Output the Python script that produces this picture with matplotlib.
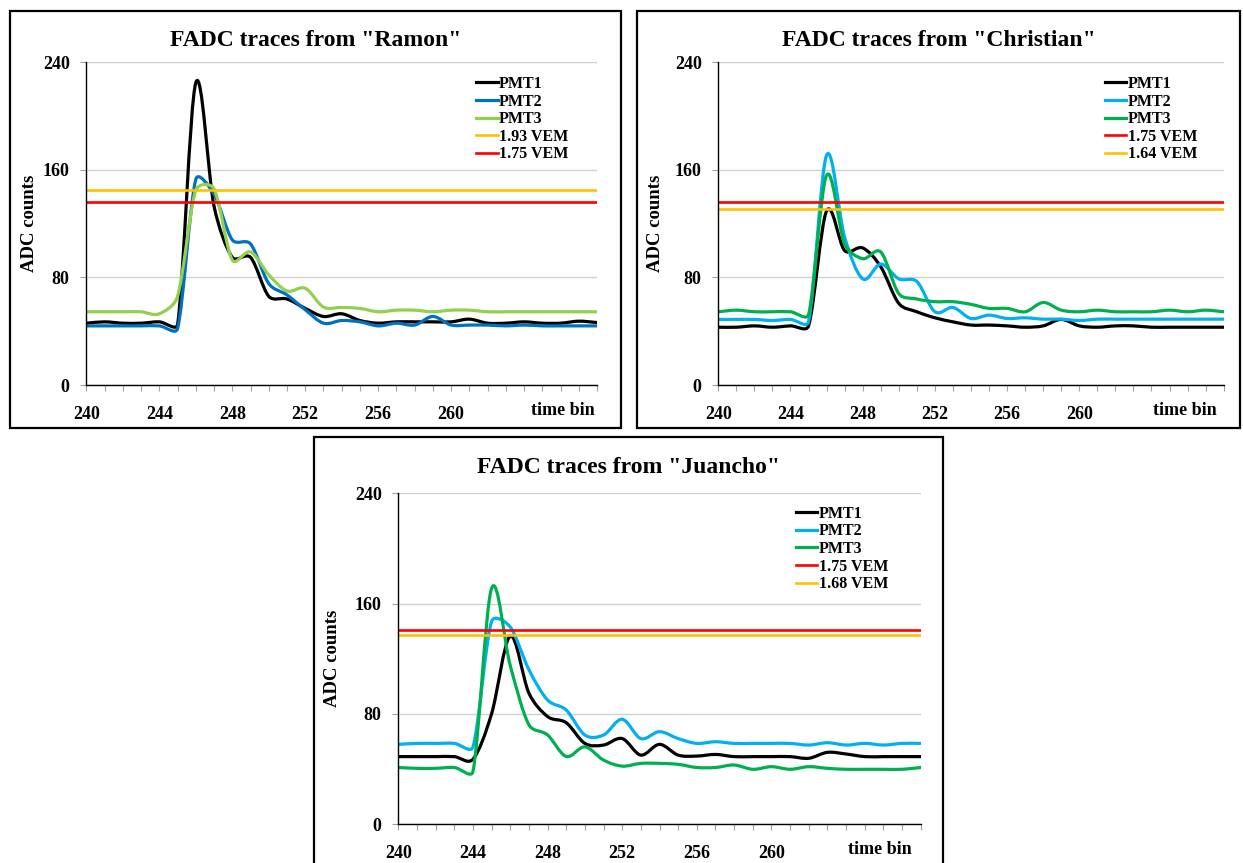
import matplotlib
matplotlib.use('Agg')
import matplotlib.pyplot as plt
from matplotlib.path import Path
from matplotlib.patches import PathPatch, Rectangle
from matplotlib.lines import Line2D
import numpy as np

# ---------------- data ----------------
bins = list(range(240, 269))
xtick_labels = [240, 244, 248, 252, 256, 260]
yticks = [0, 80, 160, 240]

ramon_pmt1 = [46, 47, 46, 46, 47, 45, 225, 133, 95, 95, 66, 64, 57, 51, 53, 48, 46, 47, 47, 47,
              47, 49, 46, 46, 47, 46, 46, 47.5, 46.5]
ramon_pmt2 = [44, 44, 44, 44, 44, 42, 153, 142, 108, 105, 75.5, 67, 56, 46, 48, 47, 44, 46, 44.6, 51,
              44.6, 44.6, 44.6, 44, 44.6, 44, 44, 44, 44]
ramon_pmt3 = [54.5, 54.5, 54.5, 54.5, 53, 66, 145, 146, 93, 99, 82, 70, 72, 58, 57.7, 57, 54.5, 55.7, 55.7, 54.5,
              55.7, 55.7, 54.5, 54.5, 54.5, 54.5, 54.5, 54.5, 54.5]
ramon_thr = {"1.93 VEM": 145, "1.75 VEM": 136}

christian_pmt1 = [43, 43, 44, 43, 44, 44, 129.5, 100, 102, 88, 60.7, 54.5, 50, 47, 44.6, 44.6, 44, 43, 44, 48.8,
                  44, 43, 44, 44, 43, 43, 43, 43, 43]
christian_pmt2 = [48.8, 48.8, 48.8, 48, 48.8, 47, 171, 110, 79, 90, 79, 77, 54.5, 57.7, 49.5, 52, 49.5, 50, 49, 49,
                  48, 49, 49, 49, 49, 49, 49, 49, 49]
christian_pmt3 = [54.5, 55.7, 54.5, 54.5, 54.5, 52.5, 156, 105, 94, 99, 68, 64, 62, 62, 60, 57, 57, 54.5, 61.4, 55.7,
                  54.5, 55.7, 54.5, 54.5, 54.5, 55.7, 54.5, 55.7, 54.5]
christian_thr = {"1.75 VEM": 136, "1.64 VEM": 131}

juancho_pmt1 = [48.9, 48.9, 48.9, 48.9, 47, 80, 136.4, 95, 78, 73.5, 58.5, 57.3, 62, 50, 57.8, 50, 49.3, 50.5, 48.9, 48.9,
                48.9, 48.9, 47.7, 52, 50.8, 48.9, 48.9, 48.9, 48.9]
juancho_pmt2 = [57.8, 58.5, 58.5, 58.5, 56, 147, 143, 112, 90, 82.7, 64.6, 64.6, 76, 62, 67, 62, 58.5, 59.7, 58.5, 58.5,
                58.5, 58.5, 57.3, 59, 57.3, 58.5, 57.3, 58.5, 58.5]
juancho_pmt3 = [41, 40.4, 40.4, 41, 38, 171, 115, 72, 64.6, 49, 56, 46.4, 42, 44, 44, 43.3, 41, 41, 42.8, 39.7,
                41.6, 39.7, 41.6, 40.4, 39.7, 39.7, 39.7, 39.7, 41]
juancho_thr = {"1.75 VEM": 141, "1.68 VEM": 137}

# ---------------- style ----------------
W, H = 1243, 863
FONT = 'Liberation Serif'
plt.rcParams['font.family'] = [FONT, 'DejaVu Serif']
plt.rcParams['font.weight'] = 'bold'

BLACK = '#000000'
RED = '#FF0000'
ORANGE = '#FFC000'

fig = plt.figure(figsize=(W / 100, H / 100), dpi=100)


def smooth_path(x, y, sx, sy, k=0.4):
    """Excel-like smoothed line: Catmull-Rom Bezier segments through the data
    points; each control handle is limited to k times its segment's on-screen length."""
    x = np.asarray(x, float)
    y = np.asarray(y, float)
    n = len(x)
    cin = [None] * n
    cout = [None] * n
    for i in range(n):
        if i == 0 or i == n - 1:
            cin[i] = (x[i], y[i])
            cout[i] = (x[i], y[i])
            continue
        tx = (x[i + 1] - x[i - 1]) / 6.0
        ty = (y[i + 1] - y[i - 1]) / 6.0
        tl = np.hypot(tx * sx, ty * sy)
        d01 = np.hypot((x[i] - x[i - 1]) * sx, (y[i] - y[i - 1]) * sy)
        d12 = np.hypot((x[i + 1] - x[i]) * sx, (y[i + 1] - y[i]) * sy)
        fa = min(1.0, k * d01 / tl) if tl > 0 else 1.0
        fb = min(1.0, k * d12 / tl) if tl > 0 else 1.0
        cin[i] = (x[i] - fa * tx, y[i] - fa * ty)
        cout[i] = (x[i] + fb * tx, y[i] + fb * ty)
    cout[0] = (x[0] + (x[1] - x[0]) / 3.0, y[0] + (y[1] - y[0]) / 3.0)
    cin[n - 1] = (x[n - 1] - (x[n - 1] - x[n - 2]) / 3.0, y[n - 1] - (y[n - 1] - y[n - 2]) / 3.0)
    verts = [(x[0], y[0])]
    codes = [Path.MOVETO]
    for i in range(n - 1):
        verts += [cout[i], cin[i + 1], (x[i + 1], y[i + 1])]
        codes += [Path.CURVE4] * 3
    return Path(verts, codes)


def fx(px):
    return px / W


def fy(py):
    return 1 - py / H


def panel(ax_px, box_px, title, title_y, series, thresholds, leg_anchor, ylabel_x, timebin_xy):
    l, t, r, b = ax_px
    ax = fig.add_axes([fx(l), fy(b), fx(r) - fx(l), fy(t) - fy(b)])
    ax.set_xlim(240, 268)
    ax.set_ylim(0, 240)
    sx = (r - l) / 28.0
    sy = (b - t) / 240.0
    for s in ['top', 'right']:
        ax.spines[s].set_visible(False)
    for s in ['left', 'bottom']:
        ax.spines[s].set_color('black')
        ax.spines[s].set_linewidth(1.0)
    ax.set_yticks(yticks)
    ax.yaxis.grid(True, color='#D0D0D0', linewidth=1.0)
    ax.set_axisbelow(True)
    ax.set_xticks(xtick_labels)
    ax.set_xticks(bins, minor=True)
    ax.set_xticklabels([str(v) for v in xtick_labels])
    ax.tick_params(axis='x', which='both', direction='out', length=4, width=0.8,
                   color='#A0A0A0', pad=11, labelsize=13)
    ax.tick_params(axis='y', which='both', direction='out', length=4, width=0.8,
                   color='#A0A0A0', pad=8, labelsize=13)
    for lab in ax.get_xticklabels() + ax.get_yticklabels():
        lab.set_fontweight('bold')
        lab.set_fontfamily(FONT)

    handles = []
    labels = []
    for name, vals, col in series:
        p = PathPatch(smooth_path(bins, vals, sx, sy), facecolor='none', edgecolor=col,
                      linewidth=2.3, transform=ax.transData, clip_on=True,
                      capstyle='round', joinstyle='round')
        ax.add_patch(p)
        handles.append(Line2D([], [], color=col, linewidth=2.3))
        labels.append(name)
    for name, (val, col) in thresholds:
        ax.axhline(val, color=col, linewidth=1.9)
        handles.append(Line2D([], [], color=col, linewidth=1.9))
        labels.append(name)

    ax.legend(handles, labels, loc='upper left', bbox_to_anchor=leg_anchor,
              frameon=False, borderpad=0, borderaxespad=0, labelspacing=0.1,
              handlelength=1.35, handletextpad=0.1,
              prop={'family': FONT, 'weight': 'bold', 'size': 11.5})

    bl, bt, br, bb = box_px
    fig.add_artist(Rectangle((fx(bl), fy(bb)), fx(br) - fx(bl), fy(bt) - fy(bb),
                             transform=fig.transFigure, fill=False,
                             edgecolor='black', linewidth=1.6, zorder=10))
    fig.text(fx((bl + br) / 2), fy(title_y), title, ha='center', va='center',
             fontsize=17, fontweight='bold', fontfamily=FONT)
    fig.text(fx(ylabel_x), fy((t + b) / 2), 'ADC counts', rotation=90,
             ha='center', va='center', fontsize=13.5, fontweight='bold', fontfamily=FONT)
    fig.text(fx(timebin_xy[0]), fy(timebin_xy[1]), 'time bin', ha='center', va='center',
             fontsize=13, fontweight='bold', fontfamily=FONT)
    return ax


panel((86.4, 62.5, 597, 385), (10, 11, 621, 428), 'FADC traces from "Ramon"', 40,
      [('PMT1', ramon_pmt1, BLACK), ('PMT2', ramon_pmt2, '#0070C0'), ('PMT3', ramon_pmt3, '#92D050')],
      [('1.93 VEM', (ramon_thr['1.93 VEM'], ORANGE)), ('1.75 VEM', (ramon_thr['1.75 VEM'], RED))],
      (0.763, 0.958), 29, (563, 410))

panel((718.3, 62.5, 1223.7, 385), (637, 11, 1240, 428), 'FADC traces from "Christian"', 40,
      [('PMT1', christian_pmt1, BLACK), ('PMT2', christian_pmt2, '#00B0F0'), ('PMT3', christian_pmt3, '#00B050')],
      [('1.75 VEM', (christian_thr['1.75 VEM'], RED)), ('1.64 VEM', (christian_thr['1.64 VEM'], ORANGE))],
      (0.765, 0.958), 656, (1185, 410))

panel((398.3, 493.3, 920.7, 824), (314, 437, 943, 866), 'FADC traces from "Juancho"', 467,
      [('PMT1', juancho_pmt1, BLACK), ('PMT2', juancho_pmt2, '#00B0F0'), ('PMT3', juancho_pmt3, '#00B050')],
      [('1.75 VEM', (juancho_thr['1.75 VEM'], RED)), ('1.68 VEM', (juancho_thr['1.68 VEM'], ORANGE))],
      (0.761, 0.962), 333, (880, 849))

fig.savefig('out.png', dpi=100)
